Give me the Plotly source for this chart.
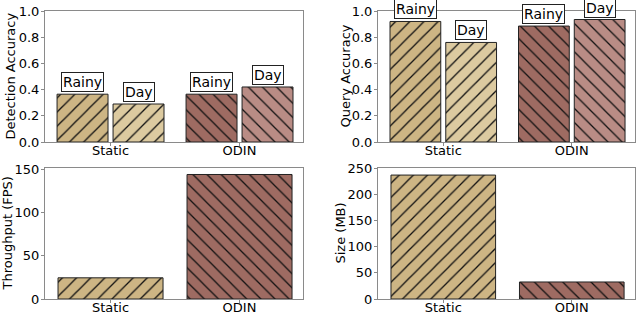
import plotly.graph_objects as go

groups = ["Static", "ODIN"]
conditions = ["Rainy", "Day"]
detection_rainy = [0.365, 0.365]
detection_day = [0.29, 0.42]
query_rainy = [0.92, 0.885]
query_day = [0.76, 0.935]
throughput_fps = [24.5, 144]
size_mb = [236.5, 32.5]
y_titles = ["Detection Accuracy", "Query Accuracy", "Throughput (FPS)", "Size (MB)"]

colors_rainy = ["#cdb584", "#9e6b62"]
colors_day = ["#dccaa0", "#b98c85"]
hatches = ["/", "\\"]

FONT = "DejaVu Sans"
FRAME = "#8a8a8a"
FS = 13

fig = go.Figure()

xpos = list(range(len(groups)))
W2 = 0.395
GAP = 0.039


def bar(xa, ya, x, v, w, off, color, hatch):
    fig.add_trace(go.Bar(
        x=[x], y=[v], width=w, offset=off,
        marker=dict(color=color, line=dict(color="#222222", width=1),
                    pattern=dict(shape=hatch, fgcolor="#111111", fgopacity=1, size=10,
                                 solidity=0.13, fillmode="overlay")),
        xaxis=xa, yaxis=ya, showlegend=False, hoverinfo="skip"))


def add_grouped(xa, ya, rainy, day):
    for vals, cols, off, name in [(rainy, colors_rainy, -(W2 + GAP / 2), conditions[0]),
                                  (day, colors_day, GAP / 2, conditions[1])]:
        for i, v in enumerate(vals):
            bar(xa, ya, xpos[i], v, W2, off, cols[i], hatches[i])
            fig.add_annotation(x=xpos[i] + off + W2 / 2, y=v, xref=xa, yref=ya,
                               text=name, showarrow=False, yanchor="bottom", yshift=2,
                               bgcolor="white", bordercolor="#222222", borderwidth=1, borderpad=1,
                               font=dict(family=FONT, size=14, color="black"))


def add_single(xa, ya, vals):
    W = 0.814
    for i, v in enumerate(vals):
        bar(xa, ya, xpos[i], v, W, -W / 2, colors_rainy[i], hatches[i])


add_grouped("x", "y", detection_rainy, detection_day)
add_grouped("x2", "y2", query_rainy, query_day)
add_single("x3", "y3", throughput_fps)
add_single("x4", "y4", size_mb)

left_dom = [45 / 640, 303 / 640]
right_dom = [378 / 640, 635 / 640]
top_dom = [1 - 142 / 314, 1 - 11 / 314]
bot_dom = [1 - 299 / 314, 1 - 168 / 314]

# y-axis titles as rotated paper annotations
title_x = [10 / 640, 345 / 640, 7 / 640, 340 / 640]
title_dom = [top_dom, top_dom, bot_dom, bot_dom]
for t, tx, dom in zip(y_titles, title_x, title_dom):
    fig.add_annotation(x=tx, y=(dom[0] + dom[1]) / 2, xref="paper", yref="paper", text=t,
                       textangle=-90, showarrow=False, xanchor="center", yanchor="middle",
                       font=dict(family=FONT, size=13, color="black"))


def xaxis(dom, anchor):
    return dict(domain=dom, anchor=anchor, range=[-0.508, 1.492], tickvals=xpos, ticktext=groups,
                showline=True, mirror=True, linecolor=FRAME, linewidth=1, ticks="outside",
                ticklen=3, tickcolor=FRAME, showgrid=False, zeroline=False, automargin=False,
                ticklabelstandoff=-7,
                tickfont=dict(family=FONT, size=FS, color="black"))


def yaxis(dom, anchor, rng, dtick):
    return dict(domain=dom, anchor=anchor, range=rng, dtick=dtick, showline=True, mirror=True,
                linecolor=FRAME, linewidth=1, ticks="outside", ticklen=3, tickcolor=FRAME,
                showgrid=False, zeroline=False, automargin=False, ticklabelstandoff=-1,
                tickformat=".1f" if dtick < 1 else "d",
                tickfont=dict(family=FONT, size=FS, color="black"))


fig.update_layout(
    width=640, height=314, margin=dict(l=0, r=0, t=0, b=0, pad=0, autoexpand=False),
    plot_bgcolor="white", paper_bgcolor="white", barmode="overlay",
    font=dict(family=FONT, size=FS, color="black"),
    xaxis=xaxis(left_dom, "y"), yaxis=yaxis(top_dom, "x", [0, 1.0], 0.2),
    xaxis2=xaxis(right_dom, "y2"), yaxis2=yaxis(top_dom, "x2", [0, 1.0], 0.2),
    xaxis3=xaxis(left_dom, "y3"), yaxis3=yaxis(bot_dom, "x3", [0, 151.5], 50),
    xaxis4=xaxis(right_dom, "y4"), yaxis4=yaxis(bot_dom, "x4", [0, 250], 50),
)

fig.write_html("out.html", config={"displayModeBar": False},
               post_script="document.body.style.margin='0';document.body.style.overflow='hidden';")
